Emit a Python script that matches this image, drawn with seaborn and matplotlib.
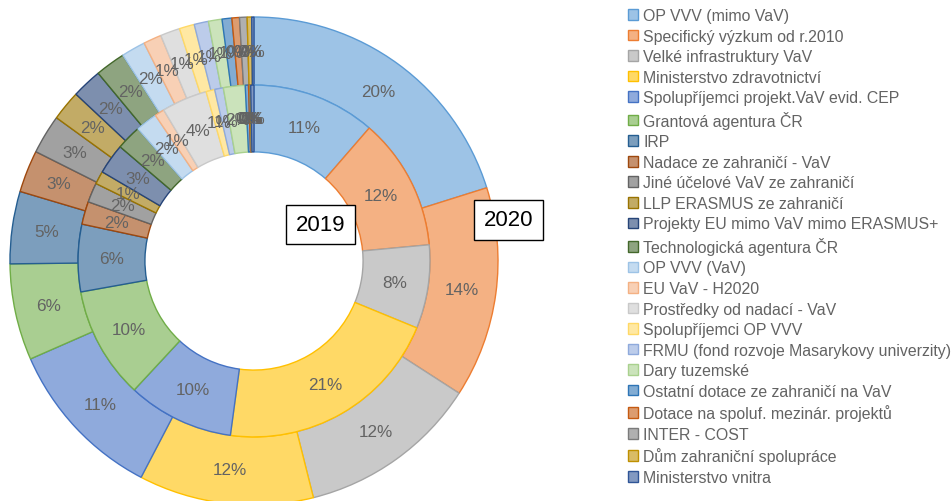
import matplotlib.pyplot as plt
import seaborn as sns
from matplotlib.colors import to_rgb

sns.set_style('white')
plt.rcParams['font.family'] = ['Liberation Sans', 'DejaVu Sans']

# funding sources (legend order = wedge order, clockwise from 12 o'clock)
categories = [
    'OP VVV (mimo VaV)',
    'Specifický výzkum od r.2010',
    'Velké infrastruktury VaV',
    'Ministerstvo zdravotnictví',
    'Spolupříjemci projekt.VaV evid. CEP',
    'Grantová agentura ČR',
    'IRP',
    'Nadace ze zahraničí - VaV',
    'Jiné účelové VaV ze zahraničí',
    'LLP ERASMUS ze zahraničí',
    'Projekty EU mimo VaV mimo ERASMUS+',
    'Technologická agentura ČR',
    'OP VVV (VaV)',
    'EU VaV - H2020',
    'Prostředky od nadací - VaV',
    'Spolupříjemci OP VVV',
    'FRMU (fond rozvoje Masarykovy univerzity)',
    'Dary tuzemské',
    'Ostatní dotace ze zahraničí na VaV',
    'Dotace na spoluf. mezinár. projektů',
    'INTER - COST',
    'Dům zahraniční spolupráce',
    'Ministerstvo vnitra',
]

# shares in %
values_2020 = [20.2, 14.0, 12.0, 11.6, 10.8, 6.4, 4.8, 2.8, 2.6, 2.0, 2.0, 2.0,
               1.6, 1.2, 1.3, 1.0, 0.95, 0.9, 0.65, 0.5, 0.5, 0.3, 0.15]
values_2019 = [11.4, 12.2, 7.7, 21.0, 9.8, 10.3, 6.2, 2.1, 1.8, 1.2, 2.8, 2.3,
               2.0, 0.9, 4.2, 0.8, 0.8, 2.0, 0.3, 0.1, 0.05, 0.05, 0.3]

base_colors = ['#5B9BD5', '#ED7D31', '#A5A5A5', '#FFC000', '#4472C4', '#70AD47',
               '#255E91', '#9E480E', '#636363', '#997300', '#264478', '#43682B',
               '#9DC3E6', '#F4B183', '#C9C9C9', '#FFD966', '#8FAADC', '#A9D18E',
               '#2E75B6', '#C55A11', '#7B7B7B', '#BF9000', '#2F5597']
fill_colors = [tuple(0.6 * c + 0.4 for c in to_rgb(b)) for b in base_colors]

label_color = '#636363'

fig = plt.figure(figsize=(9.53, 5.02), dpi=100)
ax = fig.add_axes([10 / 953, -4 / 502, 488 / 953, 488 / 502])

# outer ring = 2020
outer, _, outer_txt = ax.pie(values_2020, radius=1.0, startangle=90, counterclock=False,
                             colors=fill_colors, autopct=lambda p: f'{p:.0f}%',
                             pctdistance=0.86,
                             wedgeprops=dict(width=0.279, linewidth=1.0),
                             textprops=dict(color=label_color, fontsize=12.3))
# inner ring = 2019
inner, _, inner_txt = ax.pie(values_2019, radius=0.721, startangle=90, counterclock=False,
                             colors=fill_colors, autopct=lambda p: f'{p:.0f}%',
                             pctdistance=0.81,
                             wedgeprops=dict(width=0.274, linewidth=1.0),
                             textprops=dict(color=label_color, fontsize=12.3))
for w, c in zip(outer, base_colors):
    w.set_edgecolor(c)
for w, c in zip(inner, base_colors):
    w.set_edgecolor(c)

ax.set_xlim(-1, 1)
ax.set_ylim(-1, 1)
ax.set_aspect('equal')
ax.axis('off')

# year boxes
box = dict(boxstyle='square,pad=0.42', fc='white', ec='black', lw=1.0)
fig.text(320.5 / 953, 1 - 225.5 / 502, '2019', ha='center', va='center',
         fontsize=16, color='black', bbox=box, zorder=10)
fig.text(508.5 / 953, 1 - 221 / 502, '2020', ha='center', va='center',
         fontsize=16, color='black', bbox=box, zorder=10)

fig.legend(outer, categories, loc='upper left', bbox_to_anchor=(628 / 953, 1 - 9 / 502),
           frameon=False, fontsize=11.4, handlelength=0.65, handleheight=0.65,
           handletextpad=0.3, labelspacing=0.35, borderpad=0, borderaxespad=0,
           labelcolor=label_color)

fig.savefig('out.png', dpi=100)
